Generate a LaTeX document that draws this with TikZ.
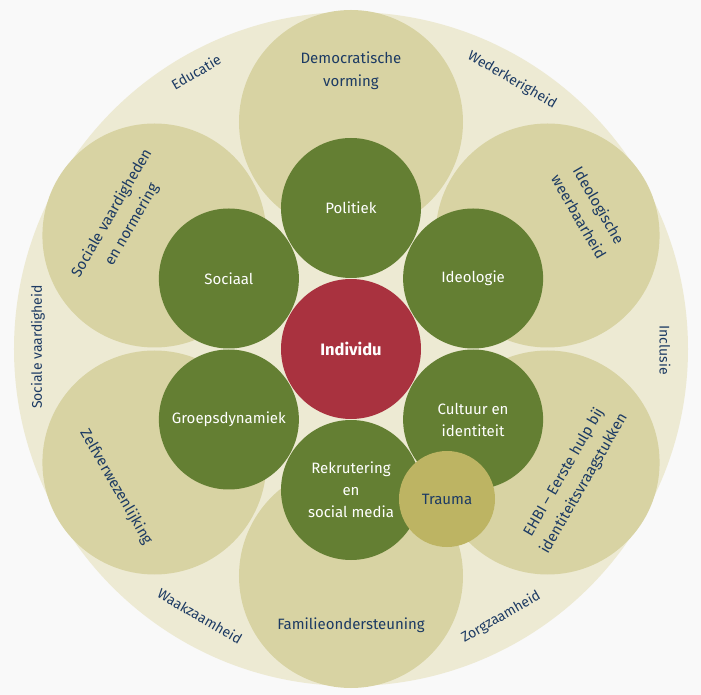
\documentclass[tikz,border=0pt]{standalone}
\usepackage{fontspec}
\setmainfont{Fira Sans}
\definecolor{bgc}{HTML}{F9F9F9}
\definecolor{ringc}{HTML}{EDEAD3}
\definecolor{tanc}{HTML}{D8D3A3}
\definecolor{greenc}{HTML}{647F33}
\definecolor{redc}{HTML}{A9323F}
\definecolor{traumac}{HTML}{BDB463}
\definecolor{navyc}{HTML}{1C3A63}
\tikzset{
  bigdisc/.style={circle, fill=ringc, minimum size=674pt, inner sep=0pt},
  tandisc/.style={circle, fill=tanc, minimum size=224pt, inner sep=0pt},
  greendisc/.style={circle, fill=greenc, minimum size=140pt, inner sep=0pt, text=white, align=center, font=\fontsize{15}{22}\selectfont},
  reddisc/.style={circle, fill=redc, minimum size=140pt, inner sep=0pt, text=white, font=\fontsize{16.5}{20}\selectfont\bfseries},
  traumadisc/.style={circle, fill=traumac, minimum size=96pt, inner sep=0pt, text=navyc, font=\fontsize{15}{20}\selectfont},
  tanlbl/.style={text=navyc, align=center, inner sep=0pt, font=\fontsize{15}{23}\selectfont},
  ringlbl/.style={text=navyc, inner sep=0pt, font=\fontsize{14}{16}\selectfont},
}
\begin{document}
\begin{tikzpicture}[x=1pt,y=1pt]
\fill[bgc] (-351,-346) rectangle (350,349);
\useasboundingbox (-351,-346) rectangle (350,349);
\node[bigdisc] (big) at (0,0) {};
\node[tandisc] (tdem) at (90:227) {};
\node[tandisc] (tideo) at (30:227) {};
\node[tandisc] (tehbi) at (-30:227) {};
\node[tandisc] (tfam) at (-90:227) {};
\node[tandisc] (tzelf) at (-150:227) {};
\node[tandisc] (tsoc) at (150:227) {};
\node[tanlbl] (ldem) at (0,278) {Democratische\\vorming};
\node[tanlbl, rotate=-60] (lideo) at (238,138) {Ideologische\\weerbaarheid};
\node[tanlbl, rotate=60] (lehbi) at (223,-129) {EHBI -- Eerste hulp bij\\identiteitsvraagstukken};
\node[tanlbl] (lfam) at (0,-276) {Familieondersteuning};
\node[tanlbl, rotate=-60] (lzelf) at (-235,-138) {Zelfverwezenlijking};
\node[tanlbl, rotate=60] (lsoc) at (-229,130) {Sociale vaardigheden\\en normering};
\node[ringlbl, rotate=30] (redu) at (-155,277) {Educatie};
\node[ringlbl, rotate=-30] (rwed) at (161,269) {Wederkerigheid};
\node[ringlbl, rotate=-90] (rinc) at (314,-1) {Inclusie};
\node[ringlbl, rotate=30] (rzorg) at (150,-268) {Zorgzaamheid};
\node[ringlbl, rotate=-30] (rwaak) at (-151,-267) {Waakzaamheid};
\node[ringlbl, rotate=90] (rsoc) at (-313,2) {Sociale vaardigheid};
\node[greendisc] (gpol) at (90:141) {Politiek};
\node[greendisc] (gideo) at (30:141) {Ideologie};
\node[greendisc] (gcult) at (-30:141) {Cultuur en\\identiteit};
\node[greendisc] (grek) at (-90:141) {Rekrutering\\en\\social media};
\node[greendisc] (ggroep) at (-150:141) {Groepsdynamiek};
\node[greendisc] (gsoc) at (150:141) {Sociaal};
\node[reddisc] (indiv) at (0,0) {Individu};
\node[traumadisc] (trauma) at (96,-150) {Trauma};
\end{tikzpicture}
\end{document}
